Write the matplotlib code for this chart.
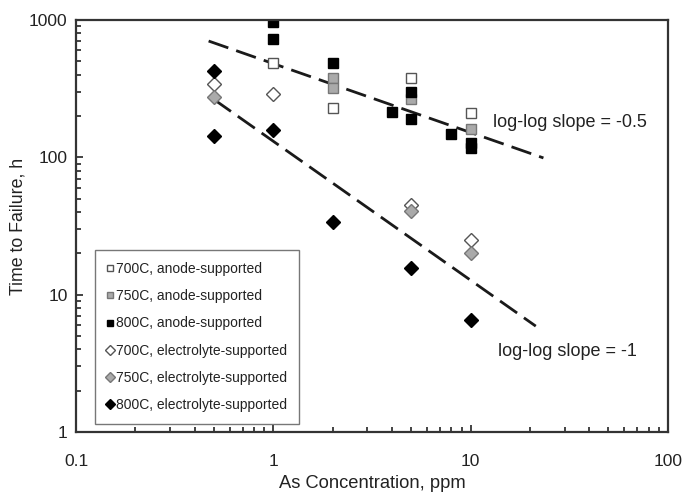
import numpy as np
import matplotlib as mpl
import matplotlib.pyplot as plt

mpl.rcParams["font.family"] = ["Liberation Sans", "DejaVu Sans"]

# anode-supported cells (squares)
x_700a = [1, 2, 5, 10]
y_700a = [489, 228, 378, 211]
x_750a = [2, 2, 5, 10]
y_750a = [378, 321, 264, 161]
x_800a = [1, 1, 2, 4, 5, 5, 8, 10, 10]
y_800a = [972, 723, 489, 214, 300, 191, 149, 128, 117]

# electrolyte-supported cells (diamonds)
x_700e = [0.5, 1, 5, 10]
y_700e = [340, 290, 45, 25]
x_750e = [0.5, 5, 10]
y_750e = [276, 41, 20.2]
x_800e = [0.5, 0.5, 1, 2, 5, 10]
y_800e = [425, 143, 157, 33.7, 15.6, 6.5]

# dashed trend lines (end points)
fit1_x = [0.47, 23.4]
fit1_y = [703, 99]
fit2_x = [0.5, 21.4]
fit2_y = [264, 5.9]

fig = plt.figure(figsize=(6.85, 4.94), dpi=100)
ax = fig.add_axes([0.111, 0.1255, 0.864, 0.834])

ax.plot(fit1_x, fit1_y, '--', color='#1a1a1a', lw=2, dashes=(7.5, 3), zorder=1)
ax.plot(fit2_x, fit2_y, '--', color='#1a1a1a', lw=2, dashes=(7.5, 3), zorder=1)

sq = dict(ls='none', marker='s', ms=6.5, mew=1)
di = dict(ls='none', marker='D', ms=6.8, mew=1)
ax.plot(x_700a, y_700a, mfc='white', mec='#555555', label='700C, anode-supported', **sq)
ax.plot(x_750a, y_750a, mfc='#aaaaaa', mec='#777777', label='750C, anode-supported', **sq)
ax.plot(x_800a, y_800a, mfc='black', mec='black', label='800C, anode-supported', **sq)
ax.plot(x_700e, y_700e, mfc='white', mec='#555555', label='700C, electrolyte-supported', **di)
ax.plot(x_750e, y_750e, mfc='#aaaaaa', mec='#777777', label='750C, electrolyte-supported', **di)
ax.plot(x_800e, y_800e, mfc='black', mec='black', label='800C, electrolyte-supported', **di)

ax.set_xscale('log')
ax.set_yscale('log')
ax.set_xlim(0.1, 100)
ax.set_ylim(1, 1000)
ax.set_xticks([0.1, 1, 10, 100])
ax.set_xticklabels(['0.1', '1', '10', '100'])
ax.set_yticks([1, 10, 100, 1000])
ax.set_yticklabels(['1', '10', '100', '1000'])

ax.tick_params(which='both', direction='in', top=False, right=False, color='#222222')
ax.tick_params(which='major', length=5, width=1.2, labelsize=12.5, pad=16, labelcolor='#222222')
ax.tick_params(which='minor', length=3.5, width=1.2)
ax.tick_params(axis='y', which='major', pad=6)
for s in ax.spines.values():
    s.set_color('#333333')
    s.set_linewidth(1.6)

ax.set_xlabel('As Concentration, ppm', fontsize=13.2, color='#222222', labelpad=4)
ax.set_ylabel('Time to Failure, h', fontsize=12.8, color='#222222', labelpad=2)

ax.text(13.0, 179, 'log-log slope = -0.5', fontsize=13, color='#222222', va='center')
ax.text(13.7, 3.87, 'log-log slope = -1', fontsize=13, color='#222222', va='center')

leg = ax.legend(loc='lower left', bbox_to_anchor=(0.032, 0.02), fontsize=10,
                frameon=True, fancybox=False, handlelength=0.5, handletextpad=0.15,
                labelspacing=0.95, borderpad=0.85, markerscale=0.75, borderaxespad=0)
leg.get_frame().set_edgecolor('#555555')
leg.get_frame().set_linewidth(1.0)
for t in leg.get_texts():
    t.set_color('#222222')

fig.savefig('out.png', dpi=100)
